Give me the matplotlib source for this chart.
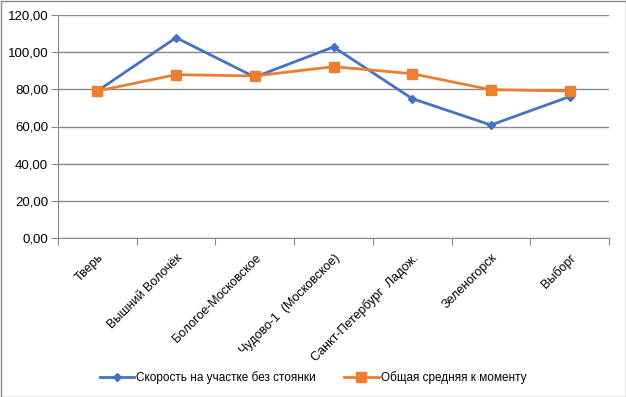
import matplotlib
matplotlib.use("Agg")
import matplotlib.pyplot as plt
from matplotlib.ticker import FuncFormatter, MultipleLocator
from matplotlib.patches import Rectangle

categories = ["Тверь", "Вышний Волочёк", "Бологое-Московское", "Чудово-1  (Московское)",
              "Санкт-Петербург  Ладож.", "Зеленогорск", "Выборг"]
speed_segment = [79.1, 107.8, 86.6, 102.8, 75.0, 60.8, 76.1]
overall_avg = [79.1, 87.9, 87.2, 92.2, 88.4, 79.8, 79.1]
series_names = ["Скорость на участке без стоянки", "Общая средняя к моменту"]

plt.rcParams['font.family'] = ['Liberation Sans', 'DejaVu Sans']

fig = plt.figure(figsize=(6.26, 3.97), dpi=100)
ax = fig.add_axes([58/626, 1-238/397, (609-58)/626, (238-15)/397])

x = list(range(len(categories)))
ax.plot(x, speed_segment, color="#4472C4", lw=2, marker="D", ms=4.5, label=series_names[0])
ax.plot(x, overall_avg, color="#ED7D31", lw=2, marker="s", ms=6.5, label=series_names[1])

ax.set_xlim(-0.5, len(categories)-0.5)
ax.set_ylim(0, 120)
ax.yaxis.set_major_locator(MultipleLocator(20))
ax.yaxis.set_major_formatter(FuncFormatter(lambda v, p: f"{v:.2f}".replace(".", ",")))
ax.grid(axis="y", color="#898989", lw=1)
ax.set_axisbelow(True)
for s in ["top", "right"]:
    ax.spines[s].set_visible(False)
ax.spines["left"].set_color("#898989")
ax.spines["bottom"].set_color("#898989")
ax.tick_params(axis="y", length=5, color="#898989", labelsize=9.5, pad=2)
ax.set_xticks([i + 0.5 for i in range(-1, len(categories))], minor=False)
ax.set_xticklabels([])
ax.tick_params(axis="x", length=5, color="#898989")
ax.set_xticks(x, minor=True)
ax.set_xticklabels(categories, minor=True, rotation=45, ha="right", rotation_mode="anchor", fontsize=9)
ax.tick_params(axis="x", which="minor", length=0, pad=10)

ax.legend(loc="center", bbox_to_anchor=(0.5, 1-378/397), bbox_transform=fig.transFigure,
          ncol=2, frameon=False, fontsize=8.5, handlelength=2.9, columnspacing=2.4, handletextpad=0.2)

fig.patches.append(Rectangle((0.5/626, 0.5/397), 1-1/626, 1-1/397, transform=fig.transFigure,
                             fill=False, edgecolor="#898989", lw=1))

fig.savefig("out.png", dpi=100)
